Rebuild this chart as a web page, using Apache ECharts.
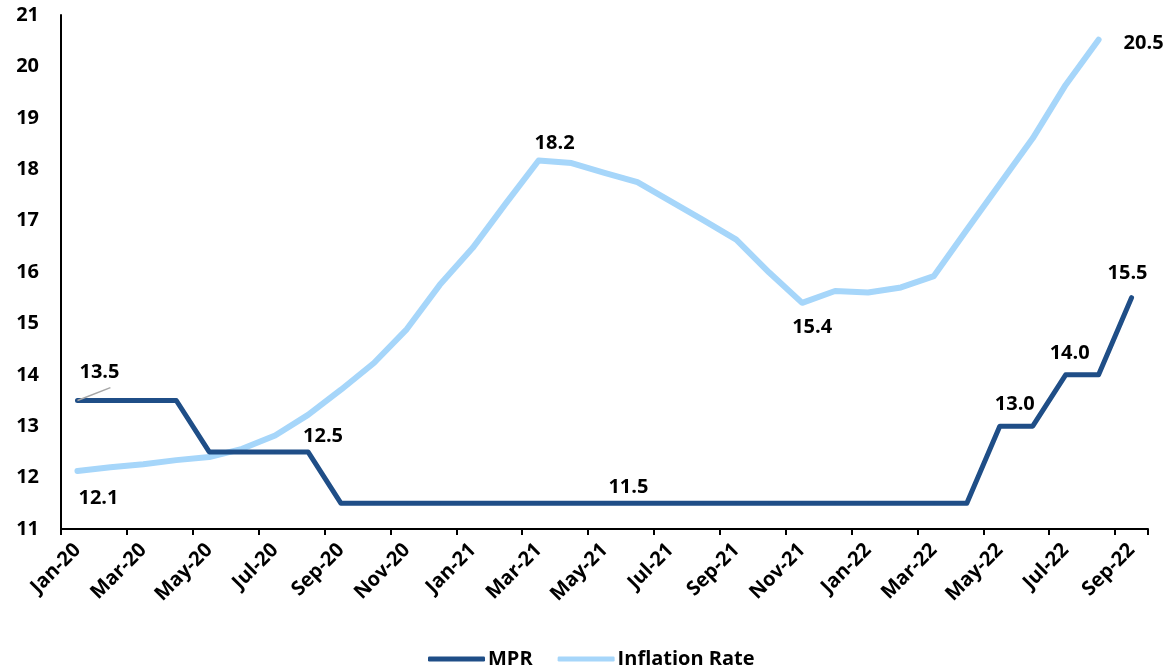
<!DOCTYPE html>
<html>
<head>
<meta charset="utf-8">
<script src="https://cdn.jsdelivr.net/npm/echarts@6/dist/echarts.min.js"></script>
<style>
	html, body { margin: 0; padding: 0; background: #ffffff; }
	#chart { width: 1168px; height: 669px; }
</style>
</head>
<body>
<div id="chart"></div>
<script>
var months = ['Jan-20', 'Feb-20', 'Mar-20', 'Apr-20', 'May-20', 'Jun-20', 'Jul-20', 'Aug-20', 'Sep-20', 'Oct-20', 'Nov-20', 'Dec-20',
	'Jan-21', 'Feb-21', 'Mar-21', 'Apr-21', 'May-21', 'Jun-21', 'Jul-21', 'Aug-21', 'Sep-21', 'Oct-21', 'Nov-21', 'Dec-21',
	'Jan-22', 'Feb-22', 'Mar-22', 'Apr-22', 'May-22', 'Jun-22', 'Jul-22', 'Aug-22', 'Sep-22'];

var mpr = [13.5, 13.5, 13.5, 13.5, 12.5, 12.5, 12.5, 12.5,
	11.5, 11.5, 11.5, 11.5, 11.5, 11.5, 11.5, 11.5, 11.5, 11.5,
	11.5, 11.5, 11.5, 11.5, 11.5, 11.5, 11.5, 11.5, 11.5, 11.5,
	13.0, 13.0, 14.0, 14.0, 15.5];

var inflation = [12.13, 12.20, 12.26, 12.34, 12.40, 12.56, 12.82, 13.22, 13.71, 14.23, 14.89, 15.75,
	16.47, 17.33, 18.17, 18.12, 17.93, 17.75, 17.38, 17.01, 16.63, 15.99, 15.40, 15.63,
	15.60, 15.70, 15.92, 16.82, 17.71, 18.60, 19.64, 20.52];

// which points carry a value label
var mprLabelIdx = [0, 7, 17, 28, 30, 32];
var inflLabelIdx = [0, 14, 22, 31];

// label placement (offsets in px from the point)
var mprLabelPos = {
	0: [22, -28],
	7: [15, -16],
	17: [-9, -16],
	28: [15, -22],
	30: [4, -22],
	32: [-4, -24]
};
var inflLabelPos = {
	0: [21, 27],
	14: [16, -17],
	22: [10, 24],
	31: [45, 4]
};

var FONT = 'Open Sans';

function buildData(values, idxList, posMap) {
	var out = [];
	for (var i = 0; i < values.length; i++) {
		var item = {value: values[i]};
		if (idxList.indexOf(i) >= 0) {
			item.label = {
				show: true,
				position: 'inside',
				offset: posMap[i],
				formatter: function (prm) { return prm.value.toFixed(1); }
			};
		}
		out.push(item);
	}
	return out;
}

var myChart = echarts.init(document.getElementById('chart'));

var labelStyle = {
	color: '#000000',
	fontFamily: FONT,
	fontWeight: 'bold',
	fontSize: 20
};

var option = {
	backgroundColor: '#ffffff',
	animation: false,
	grid: {
		left: 61,
		right: 20,
		top: 15,
		bottom: 140
	},
	legend: {
		top: 644,
		left: 423,
		icon: 'roundRect',
		itemWidth: 57,
		itemHeight: 5,
		itemGap: 25,
		textStyle: {
			color: '#000000',
			fontFamily: FONT,
			fontWeight: 'bold',
			fontSize: 20,
			padding: [0, 0, 0, -2]
		},
		data: ['MPR', 'Inflation Rate']
	},
	xAxis: {
		type: 'category',
		data: months,
		boundaryGap: true,
		axisLine: {lineStyle: {color: '#000000', width: 2}},
		axisTick: {show: true, interval: 1, length: 6, lineStyle: {color: '#000000', width: 2}},
		axisLabel: {
			interval: 1,
			rotate: 45,
			color: '#000000',
			fontFamily: FONT,
			fontWeight: 'bold',
			fontSize: 20,
			margin: 18
		},
		splitLine: {show: false}
	},
	yAxis: {
		type: 'value',
		min: 11,
		max: 21,
		interval: 1,
		axisLine: {show: true, lineStyle: {color: '#000000', width: 2}},
		axisTick: {show: false},
		splitLine: {show: false},
		axisLabel: {
			color: '#000000',
			fontFamily: FONT,
			fontWeight: 'bold',
			fontSize: 20,
			margin: 22
		}
	},
	series: [
		{
			name: 'MPR',
			type: 'line',
			data: buildData(mpr, mprLabelIdx, mprLabelPos),
			symbol: 'circle',
			symbolSize: 1,
			color: '#1F4E87',
			lineStyle: {width: 5, color: '#1F4E87', join: 'round', cap: 'round'},
			label: labelStyle,
			// small grey leader from the first point to its label
			markLine: {
				silent: true,
				symbol: 'none',
				label: {show: false},
				lineStyle: {color: '#A6A6A6', width: 1.5, type: 'solid'},
				data: [[{coord: [0, 13.5]}, {coord: [0.7, 13.75]}]]
			},
			z: 3
		},
		{
			name: 'Inflation Rate',
			type: 'line',
			data: buildData(inflation, inflLabelIdx, inflLabelPos),
			symbol: 'circle',
			symbolSize: 1,
			color: '#A6D6FA',
			lineStyle: {width: 6, color: '#A6D6FA', join: 'round', cap: 'round'},
			label: labelStyle,
			z: 2
		}
	]
};

myChart.setOption(option);
</script>
</body>
</html>
